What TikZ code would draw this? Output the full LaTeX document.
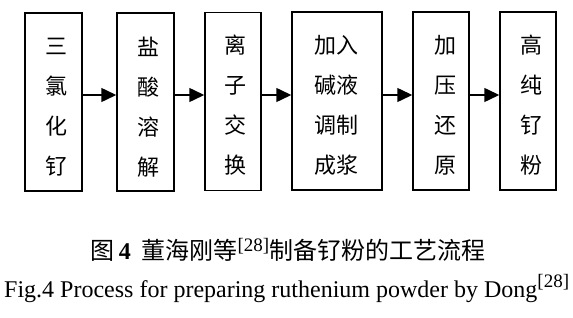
\documentclass[tikz,border=0pt]{standalone}
\usepackage{fontspec}
\setmainfont{Liberation Serif}
\newfontfamily\cjk{Noto Sans CJK SC}
\usetikzlibrary{arrows.meta}
\begin{document}
\begin{tikzpicture}[x=1pt,y=-1pt,
  stepbox/.style={draw,line width=1.5pt,inner sep=0pt,minimum height=178pt},
  steptext/.style={inner sep=0pt,align=center,font=\cjk\fontsize{22}{40}\selectfont},
  flow/.style={line width=1.5pt,-{Triangle[length=15pt,width=14pt]}}]
\useasboundingbox (0,0) rectangle (573,318);
\node[stepbox,minimum width=57pt] (b1) at (53.5,102) {};
\node[stepbox,minimum width=57pt] (b2) at (145.5,102) {};
\node[stepbox,minimum width=56pt] (b3) at (233,101.5) {};
\node[stepbox,minimum width=90pt] (b4) at (337,101) {};
\node[stepbox,minimum width=56pt] (b5) at (441,101) {};
\node[stepbox,minimum width=56pt] (b6) at (528,101) {};
\node[steptext] (t1) at (56,107) {三\\氯\\化\\钌};
\node[steptext] (t2) at (148,107) {盐\\酸\\溶\\解};
\node[steptext] (t3) at (235,105) {离\\子\\交\\换};
\node[steptext] (t4) at (336,105) {加入\\碱液\\调制\\成浆};
\node[steptext] (t5) at (445,105) {加\\压\\还\\原};
\node[steptext] (t6) at (531,105) {高\\纯\\钌\\粉};
\coordinate (ay) at (0,95);
\draw[flow] (b1.east |- ay) -- (b2.west |- ay);
\draw[flow] (b2.east |- ay) -- (b3.west |- ay);
\draw[flow] (b3.east |- ay) -- (b4.west |- ay);
\draw[flow] (b4.east |- ay) -- (b5.west |- ay);
\draw[flow] (b5.east |- ay) -- (b6.west |- ay);
\node[inner sep=0pt,anchor=base] (cap1) at (288,259)
  {\cjk\fontsize{24}{24}\selectfont 图\,\textbf{\rmfamily 4}\ \ 董海刚等\raisebox{8pt}{\rmfamily\fontsize{19}{19}\selectfont[28]}制备钌粉的工艺流程};
\node[inner sep=0pt,anchor=base west] (cap2) at (4,297)
  {\fontsize{24}{24}\selectfont Fig.4 Process for preparing ruthenium powder by Dong\raisebox{10pt}{\fontsize{19}{19}\selectfont[28]}};
\end{tikzpicture}
\end{document}
